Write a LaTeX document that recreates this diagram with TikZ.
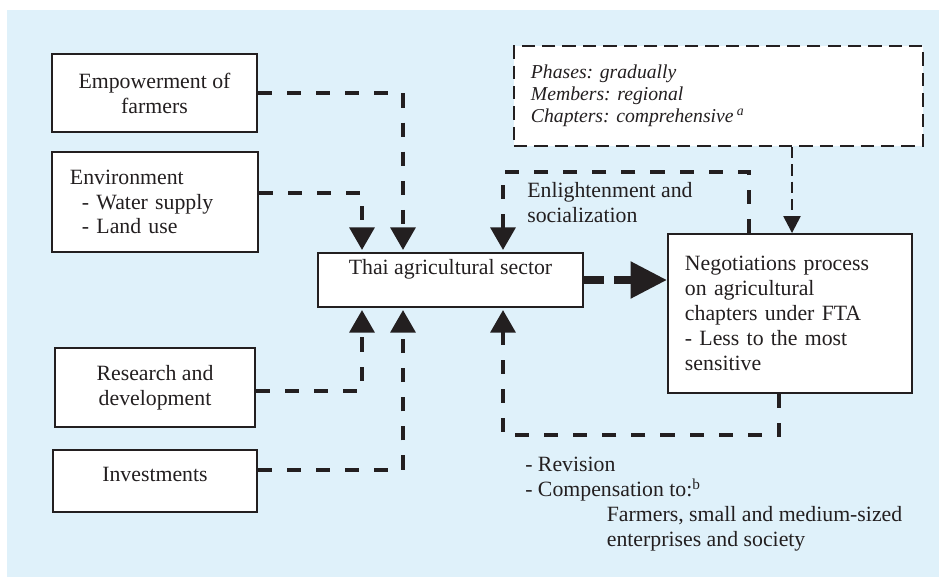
\documentclass[tikz,border=0pt]{standalone}
\usepackage{fontspec}
\setmainfont{Liberation Serif}
\usetikzlibrary{arrows.meta,calc}
\definecolor{bgblue}{RGB}{223,241,250}
\definecolor{ink}{RGB}{35,31,32}
\frenchspacing
\begin{document}
\begin{tikzpicture}[x=0.025cm,y=-0.025cm,
    every node/.style={text=ink,font=\fontsize{15.5}{17.7}\selectfont},
    box/.style={draw=ink,line width=1.3pt,fill=white,inner sep=0pt,align=center},
    dashbox/.style={box,line width=1.6pt,dash pattern=on 9.5pt off 5pt},
    conn/.style={draw=ink,line width=3pt,dash pattern=on 10pt off 10.7pt,-{Triangle[width=17.5pt,length=16pt]},shorten >=1.5pt},
    bigconn/.style={draw=ink,line width=5.7pt,dash pattern=on 14.2pt off 7.1pt,-{Triangle[width=25pt,length=26pt]}},
    thinconn/.style={draw=ink,line width=1.7pt,dash pattern=on 8pt off 4.3pt,-{Triangle[width=12pt,length=12pt]}}]
                    \useasboundingbox (0,0) rectangle (939,577);
                    \fill[bgblue] (7,10) rectangle (939,577);

                    \node[box,minimum width=5.125cm,minimum height=1.95cm] (emp) at (154.5,93) {Empowerment of\\farmers};
                    \node[box,minimum width=5.15cm,minimum height=2.5cm,align=left,text width=4.25cm] (env) at (155,202) {Environment\\\hspace*{8.5pt}- Water supply\\\hspace*{8.5pt}- Land use};
                    \node[box,minimum width=5cm,minimum height=1.975cm] (rnd) at (155,387.5) {Research and\\development};
                    \node[box,minimum width=5.1cm,minimum height=1.55cm,text height=10.3pt,text depth=10pt] (inv) at (155,481) {Investments};
                    \node[box,minimum width=6.625cm,minimum height=1.35cm,text height=10.3pt,text depth=18.5pt] (thai) at (450.5,280) {Thai agricultural sector};
                    \node[box,minimum width=6.1cm,minimum height=3.975cm,align=left,text width=5.25cm] (neg) at (790,313.5) {Negotiations process\\on agricultural\\chapters under FTA\\- Less to the most\\sensitive};
                    \node[dashbox,minimum width=10.225cm,minimum height=2.5cm,align=left,text width=9.375cm,font=\itshape\fontsize{14}{15.6}\selectfont] (phases) at (718.5,96) {Phases: gradually\\Members: regional\\Chapters: comprehensive\,\textsuperscript{a}};

                    \node[anchor=north west,inner sep=0pt,align=left] (enltxt) at (527,182) {Enlightenment and\\socialization};
                    \node[anchor=north west,inner sep=0pt,align=left] (revtxt) at (525,457) {- Revision\\- Compensation to:\textsuperscript{b}\\\hspace*{58pt}Farmers, small and medium-sized\\\hspace*{58pt}enterprises and society};

                    \coordinate (colA) at (362,0);
                    \coordinate (colB) at (403,0);
                    \coordinate (colC) at (503,0);
                    \coordinate (topA) at (792,0);
                    \coordinate (enlT) at (749,172);
                    \coordinate (revB) at (779,435);

                    \draw[conn] (emp.east) -| (thai.north -| colB);
                    \draw[conn] ($(env.east)+(0,-9)$) -| (thai.north -| colA);
                    \draw[conn] ($(rnd.east)+(0,3.5)$) -| (thai.south -| colA);
                    \draw[conn] ($(inv.east)+(0,-11)$) -| (thai.south -| colB);
                    \draw[conn] (neg.north -| enlT) -- (enlT) -| (thai.north -| colC);
                    \draw[conn] (neg.south -| revB) -- (revB) -| (thai.south -| colC);
                    \draw[bigconn] (thai.east) -- (thai.east -| neg.west);
                    \draw[thinconn] (phases.south -| topA) -- (neg.north -| topA);
                \end{tikzpicture}
\end{document}
